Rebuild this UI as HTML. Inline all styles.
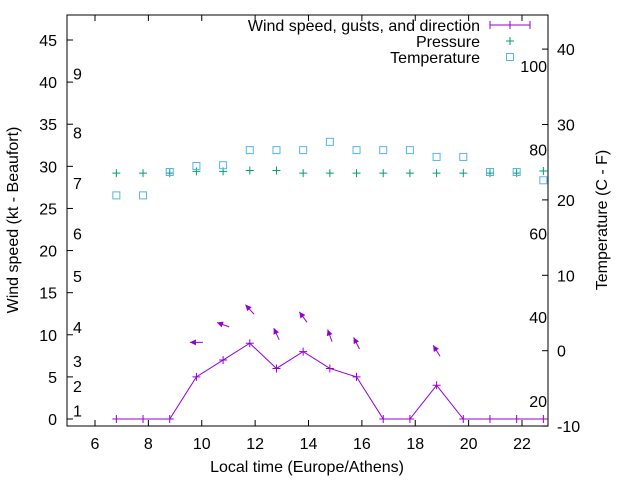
<!DOCTYPE html>
<html><head><meta charset="utf-8"><style>
body{margin:0;background:#fff}
svg{font-family:"Liberation Sans",sans-serif;font-size:16px}
</style></head><body>
<svg id="c" width="640" height="480" xmlns="http://www.w3.org/2000/svg"></svg>
<script>
const hours=[6.8,7.8,8.8,9.8,10.8,11.8,12.8,13.8,14.8,15.8,16.8,17.8,18.8,19.8,20.8,21.8,22.8];
const wind=[0,0,0,5,7,9,6,8,6,5,0,0,4,0,0,0,0];
const gustIdx=[3,4,5,6,7,8,9,12];
const gusts=[9.1,11.2,13,10.1,12.1,9.9,9,8.1];
const dirs=[270,290,318,335,324,340,333,328];
const pressure=[29.2,29.2,29.2,29.4,29.4,29.5,29.5,29.2,29.2,29.2,29.2,29.2,29.2,29.2,29.2,29.2,29.45];
const temp=[20.6,20.6,23.7,24.5,24.6,26.6,26.6,26.6,27.7,26.6,26.6,26.6,25.7,25.7,23.7,23.7,22.6];
const xTicks=[6,8,10,12,14,16,18,20,22];
const yTicks=[0,5,10,15,20,25,30,35,40,45];
const y2Ticks=[-10,0,10,20,30,40];
const bftLabels=["1","2","3","4","5","6","7","8","9"];
const bftY=[1,3.9,6.9,10.9,17,22,28,34,41];
const fLabels=["20","40","60","80","100"];
const L=67,R=548,T=15,B=426;
const X=v=>95+(v-6)*(522-95)/16;
const Y=v=>419-v*(419-40)/45;
const Y2=v=>350.7-v*7.54;
const svg=document.getElementById('c');const NS='http://www.w3.org/2000/svg';
function mk(t,a,p){const e=document.createElementNS(NS,t);for(const k in a)e.setAttribute(k,a[k]);(p||svg).appendChild(e);return e;}
function txt(s,x,y,anc,p){const e=mk('text',{x:x,y:y,'text-anchor':anc,fill:'#000'},p);e.textContent=s;return e;}
mk('rect',{x:L,y:T,width:R-L,height:B-T,fill:'none',stroke:'#000'});
const gx=mk('g',{});
xTicks.forEach(v=>{const x=X(v);mk('line',{x1:x,y1:B,x2:x,y2:B-6,stroke:'#000'},gx);mk('line',{x1:x,y1:T,x2:x,y2:T+6,stroke:'#000'},gx);txt(String(v),x,449,'middle',gx);});
const gy=mk('g',{});
yTicks.forEach(v=>{const y=Y(v);mk('line',{x1:L,y1:y,x2:L+6,y2:y,stroke:'#000'},gy);txt(String(v),57,y+6,'end',gy);});
const gy2=mk('g',{});
y2Ticks.forEach(v=>{const y=Y2(v);mk('line',{x1:R,y1:y,x2:R-6,y2:y,stroke:'#000'},gy2);txt(String(v),557,y+6,'start',gy2);});
const gb=mk('g',{});
bftLabels.forEach((s,i)=>txt(s,73,Y(bftY[i])+6,'start',gb));
const gf=mk('g',{});
fLabels.forEach(s=>{const c=(Number(s)-32)*5/9;txt(s,547,Y2(c)+6,'end',gf);});
let t=txt('Wind speed (kt - Beaufort)',0,0,'middle');t.setAttribute('transform','translate(18,220) rotate(-90)');
t=txt('Temperature (C - F)',0,0,'middle');t.setAttribute('transform','translate(607,220) rotate(-90)');
t=txt('Local time (Europe/Athens)',307,472,'middle');
const P='#9400d3',G='#009e73',C='#56b4e9';
const gw=mk('g',{});
mk('polyline',{points:hours.map((h,i)=>X(h)+','+Y(wind[i])).join(' '),fill:'none',stroke:P},gw);
hours.forEach((h,i)=>{const x=X(h),y=Y(wind[i]);mk('path',{d:`M${x-4} ${y}h8M${x} ${y-4}v8`,stroke:P},gw);});
gustIdx.forEach((k,j)=>{const cx=X(hours[k]),cy=Y(gusts[j]);const a=dirs[j]*Math.PI/180,len=13;
const dx=Math.sin(a)*len/2,dy=-Math.cos(a)*len/2;const hx=cx+dx,hy=cy+dy;
const g=mk('g',{},gw);
mk('line',{x1:cx-dx,y1:cy-dy,x2:hx,y2:hy,stroke:P},g);
const ux=dx/(len/2),uy=dy/(len/2);const px=-uy,py=ux;
mk('polygon',{points:`${hx},${hy} ${hx-ux*6+px*3},${hy-uy*6+py*3} ${hx-ux*6-px*3},${hy-uy*6-py*3}`,fill:P},g);});
const gp=mk('g',{});
hours.forEach((h,i)=>{const x=X(h),y=Y(pressure[i]);mk('path',{d:`M${x-4} ${y}h8M${x} ${y-4}v8`,stroke:G},gp);});
const gt=mk('g',{});
hours.forEach((h,i)=>{const x=X(h),y=Y2(temp[i]);mk('rect',{x:x-3.5,y:y-3.5,width:7,height:7,fill:'none',stroke:C},gt);});
const lg=mk('g',{});
txt('Wind speed, gusts, and direction',480,31,'end',lg);
mk('path',{d:'M490 25h40M490 21v8M510 21v8M530 21v8',stroke:P},lg);
txt('Pressure',480,47,'end',lg);
mk('path',{d:'M506 41h8M510 37v8',stroke:G},lg);
txt('Temperature',480,63,'end',lg);
mk('rect',{x:506.5,y:53.5,width:7,height:7,fill:'none',stroke:C},lg);
</script>
</body></html>
